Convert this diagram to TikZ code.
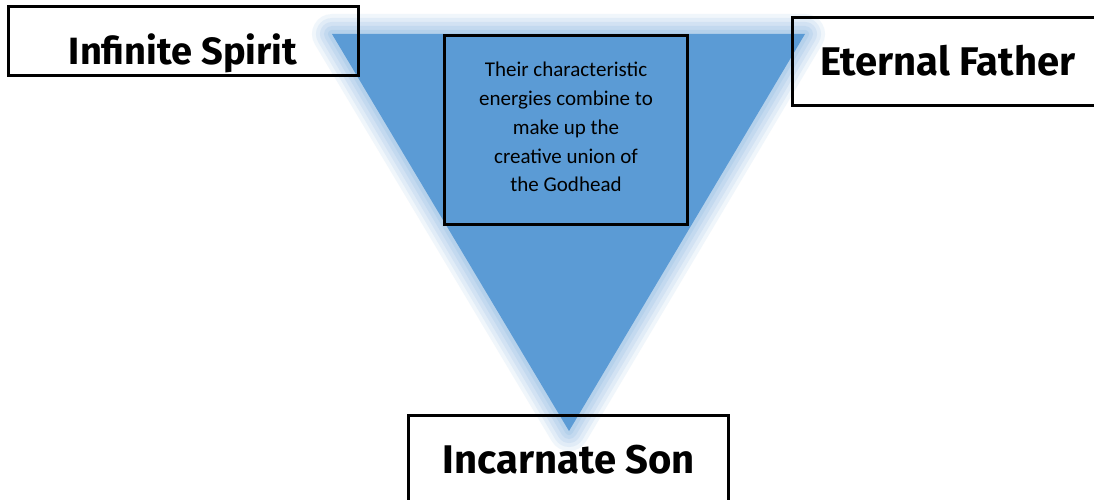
\documentclass[tikz,border=0pt]{standalone}
\usepackage{fontspec}
\setmainfont{Carlito}
\newfontfamily\titlefont{Fira Sans}
\definecolor{triblue}{HTML}{5B9BD5}
\definecolor{glowblue}{HTML}{9DC3E6}
\tikzset{
  framebox/.style={draw=black, line width=3pt, inner sep=0pt},
  titletext/.style={font=\titlefont\bfseries\fontsize{38}{44}\selectfont, anchor=base, inner sep=0pt},
  bigtitle/.style={titletext, font=\titlefont\bfseries\fontsize{40}{46}\selectfont},
  bodytext/.style={font=\fontsize{21}{28.8}\selectfont, align=center, inner sep=0pt, text=black}
}
\begin{document}
\begin{tikzpicture}[x=1pt,y=-1pt]
\useasboundingbox (0,0) rectangle (1094,500);
\fill[white] (0,0) rectangle (1094,500);
% triangle corners
\coordinate (tl) at (332,34);
\coordinate (tr) at (805,34);
\coordinate (ap) at (569,431);
% glow
\foreach \w/\o in {40/0.15, 32/0.18, 24/0.22, 16/0.28, 8/0.35}{
  \draw[glowblue, line width=\w pt, line join=round, opacity=\o] (tl) -- (tr) -- (ap) -- cycle;
}
\fill[triblue] (tl) -- (tr) -- (ap) -- cycle;
% middle box
\draw[framebox, fill=triblue] (444,36) rectangle (687,224);
\node[bodytext] (body) at (566,127) {Their characteristic\\energies combine to\\make up the\\creative union of\\the Godhead};
% boxes
\node[framebox, minimum width=350pt, minimum height=69pt] (spirit) at (183,41) {};
\node[titletext] (spiritlabel) at (183,65) {Infinite Spirit};
\node[framebox, minimum width=320pt, minimum height=88pt] (father) at (952,62) {};
\node[bigtitle] (fatherlabel) at (948,76) {Eternal Father};
\node[framebox, minimum width=320pt, minimum height=100pt] (son) at (568,465) {};
\node[bigtitle] (sonlabel) at (569,473) {Incarnate Son};
\end{tikzpicture}
\end{document}
